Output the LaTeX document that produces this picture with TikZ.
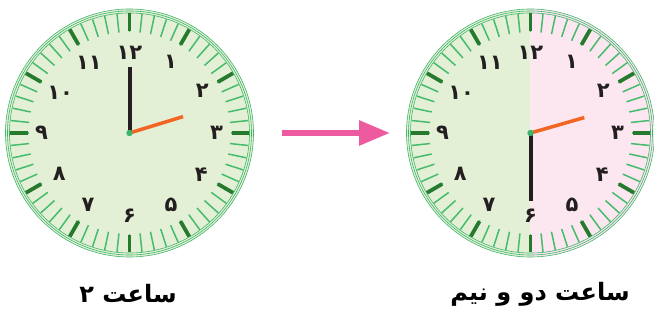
\documentclass[tikz,border=0pt]{standalone}
\usepackage{fontspec}
\usetikzlibrary{arrows.meta}
\newfontfamily\arabicfont[Script=Arabic]{DejaVu Sans}
\TeXXeTstate=1
\definecolor{facegreen}{HTML}{E4F0D6}
\definecolor{facepink}{HTML}{FCE6F0}
\definecolor{ringgreen}{HTML}{3DB66A}
\definecolor{minorgreen}{HTML}{44BC6C}
\definecolor{majorgreen}{HTML}{267A2E}
\definecolor{handblack}{HTML}{231F20}
\definecolor{handorange}{HTML}{F26522}
\definecolor{dotgreen}{HTML}{3DB36B}
\definecolor{arrowpink}{HTML}{EE5AA0}
\tikzset{
  ringline/.style={draw=ringgreen, line width=0.6},
  minortick/.style={draw=minorgreen, line width=1.5},
  majortick/.style={draw=majorgreen, line width=3.8},
  minutehand/.style={draw=handblack, line width=4},
  hourhand/.style={draw=handorange, line width=3.5},
  num/.style={font=\arabicfont\bfseries\fontsize{21}{21}\selectfont, text=handblack, inner sep=0},
  lbl/.style={font=\arabicfont\bfseries\fontsize{24}{24}\selectfont, text=black, inner sep=0},
  bigarrow/.style={draw=arrowpink, line width=6, -{Triangle[length=31pt, width=24pt]}}
}
\newcommand\myclockface{%
  \foreach \r in {124,122,120} \draw[ringline] (0,0) circle (\r);
  \foreach \a in {0,6,...,354} \draw[minortick] (\a:101) -- (\a:119.5);
  \foreach \a in {0,30,...,330} \draw[majortick] (\a:102) -- (\a:119.5);
  \node[num] at (90:80) {۱۲};
  \node[num] at (60:82) {۱};
  \node[num] at (30:84) {۲};
  \node[num] at (0:87) {۳};
  \node[num] at (-30:83) {۴};
  \node[num] at (-60:83) {۵};
  \node[num] at (-90:83) {۶};
  \node[num] at (-120:83) {۷};
  \node[num] at (-150:81) {۸};
  \node[num] at (180:88) {۹};
  \node[num] at (150:80) {۱۰};
  \node[num] at (120:81) {۱۱};
}
\begin{document}
\begin{tikzpicture}[x=1pt,y=1pt]
\useasboundingbox (0,0) rectangle (654,-320);
\coordinate (c1) at (129.5,-133);
\coordinate (c2) at (530.5,-133);
\coordinate (a1) at (282,-133);
\coordinate (a2) at (390,-133);
% clock 1
\begin{scope}[shift={(c1)}]
  \fill[facegreen] (0,0) circle (124);
  \myclockface
  \draw[minutehand] (0,0) -- (0,66);
  \draw[hourhand] (0,0) -- (17:56);
  \fill[dotgreen] (0,0) circle (3.2);
\end{scope}
% clock 2
\begin{scope}[shift={(c2)}]
  \fill[facegreen] (0,124) arc (90:270:124) -- cycle;
  \fill[facepink] (0,-124) arc (-90:90:124) -- cycle;
  \myclockface
  \draw[minutehand] (0,0) -- (0,-68);
  \draw[hourhand] (0,0) -- (16:56);
  \fill[dotgreen] (0,0) circle (3.2);
\end{scope}
\draw[bigarrow] (a1) -- (a2);
\node[lbl] (t1) at (128,-294) {\beginR ساعت ۲\endR};
\node[lbl] (t2) at (540,-294) {\beginR ساعت دو و نیم\endR};
\end{tikzpicture}
\end{document}
